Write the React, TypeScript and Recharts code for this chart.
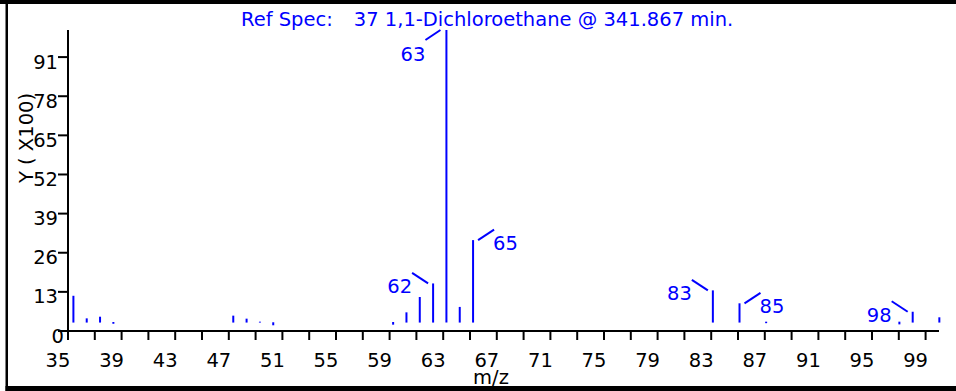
import { BarChart, Bar, XAxis, YAxis, LabelList } from "recharts";

// m/z of each peak in the reference spectrum
const mz = [35, 36, 37, 38, 47, 48, 49, 50, 59, 60, 61, 62, 63, 64, 65, 83, 85, 87, 97, 98, 100];
// top of each stick, in Y units (x100)
const abundance = [11.7, 4.2, 4.75, 3.0, 5.1, 4.1, 3.1, 2.9, 3.0, 6.2, 11.3, 15.8, 100, 8.0, 30.2, 13.5, 9.2, 3.1, 3.1, 6.4, 4.55];
// bottom of each stick (sticks float a little above zero)
const floor = [2.8, 2.8, 2.8, 2.4, 2.8, 2.8, 2.8, 1.9, 2.1, 2.8, 2.8, 2.8, 2.8, 2.8, 2.8, 2.8, 2.8, 2.6, 2.2, 2.8, 2.8];
const labelled = [62, 63, 65, 83, 85, 98];

const yTicks = [0, 13, 26, 39, 52, 65, 78, 91];
const xTicks = [35, 37, 39, 41, 43, 45, 47, 49, 51, 53, 55, 57, 59, 61, 63, 65, 67, 69, 71, 73, 75, 77, 79, 81, 83, 85, 87, 89, 91, 93, 95, 97, 99];
const xLabels = [35, 39, 43, 47, 51, 55, 59, 63, 67, 71, 75, 79, 83, 87, 91, 95, 99];

const title = "37 1,1-Dichloroethane @ 341.867 min.";

// which way the leader line of a labelled peak goes
const labelSide: Record<number, "ul" | "ur" | "dl"> = {
  62: "ul",
  63: "dl",
  65: "ur",
  83: "ul",
  85: "ur",
  98: "ul",
};

const data = mz.map((m, i) => ({
  mz: m,
  range: [floor[i], abundance[i]],
  tag: labelled.includes(m) ? m : null,
}));

const FONT = "'DejaVu Sans', Verdana, sans-serif";
const FS = 19.5;
const BLUE = "#0000ff";

function PeakLabel(props: any) {
  const { x, y, width, value } = props;
  if (value == null) return null;
  const cx = Number(x) + Number(width) / 2;
  const top = Number(y);
  const side = labelSide[value];
  if (side === "dl") {
    return (
      <g>
        <line x1={cx - 6} y1={top} x2={cx - 21} y2={top + 10} stroke={BLUE} strokeWidth={2} />
        <text x={cx - 21} y={top + 30.5} textAnchor="end" fontSize={FS} fill={BLUE} fontFamily={FONT}>
          {value}
        </text>
      </g>
    );
  }
  if (side === "ur") {
    return (
      <g>
        <line x1={cx + 5} y1={top} x2={cx + 21} y2={top - 10.5} stroke={BLUE} strokeWidth={2} />
        <text x={cx + 20} y={top + 9.5} textAnchor="start" fontSize={FS} fill={BLUE} fontFamily={FONT}>
          {value}
        </text>
      </g>
    );
  }
  return (
    <g>
      <line x1={cx - 5} y1={top} x2={cx - 21} y2={top - 10.5} stroke={BLUE} strokeWidth={2} />
      <text x={cx - 21} y={top + 10} textAnchor="end" fontSize={FS} fill={BLUE} fontFamily={FONT}>
        {value}
      </text>
    </g>
  );
}

function XTick({ x, y, payload }: any) {
  if (!xLabels.includes(payload.value)) return null;
  return (
    <text x={x - 10} y={y + 26.5} textAnchor="middle" fontSize={FS} fill="#000" fontFamily={FONT}>
      {payload.value}
    </text>
  );
}

function YTick({ x, y, payload }: any) {
  const shift = payload.value === 0 ? 6 : 0;
  return (
    <text x={x + shift} y={y + 11.5} textAnchor="end" fontSize={FS} fill="#000" fontFamily={FONT}>
      {payload.value}
    </text>
  );
}

function YLabel({ viewBox }: any) {
  const cx = viewBox.x + 25;
  const cy = 138;
  return (
    <text x={cx} y={cy} transform={`rotate(-90 ${cx} ${cy})`} textAnchor="middle" fontSize={FS} fill="#000" fontFamily={FONT}>
      Y ( X100)
    </text>
  );
}

function XLabel({ viewBox }: any) {
  return (
    <text x={viewBox.x + 423} y={viewBox.y + 52.5} textAnchor="middle" fontSize={FS} fill="#000" fontFamily={FONT}>
      m/z
    </text>
  );
}

export default function App() {
  return (
    <div style={{ position: "absolute", left: 0, top: 0, width: 956, height: 391, background: "#fff" }}>
      <BarChart width={956} height={391} data={data} margin={{ top: 30, right: 17, bottom: 0, left: 8 }}>
        <XAxis
          xAxisId="mz"
          dataKey="mz"
          type="number"
          domain={[35, 100]}
          ticks={xTicks}
          interval={0}
          height={60}
          tickSize={9}
          tickMargin={0}
          axisLine={{ stroke: "#000", strokeWidth: 2 }}
          tickLine={{ stroke: "#000", strokeWidth: 2 }}
          tick={<XTick />}
          label={{ content: XLabel }}
        />
        <XAxis xAxisId="peaks" dataKey="mz" type="number" domain={[34.62, 100]} hide />
        <YAxis
          type="number"
          domain={[0, 100]}
          ticks={yTicks}
          interval={0}
          width={60}
          tickSize={10}
          tickMargin={0}
          axisLine={{ stroke: "#000", strokeWidth: 2 }}
          tickLine={{ stroke: "#000", strokeWidth: 2 }}
          tick={<YTick />}
          label={{ content: YLabel }}
        />
        <Bar xAxisId="peaks" dataKey="range" fill={BLUE} barSize={2} isAnimationActive={false}>
          <LabelList dataKey="tag" content={PeakLabel} />
        </Bar>
      </BarChart>
      <svg width={956} height={391} style={{ position: "absolute", left: 0, top: 0, pointerEvents: "none" }}>
        <text y={26} fontSize={FS} fill={BLUE} fontFamily={FONT}>
          <tspan x={241}>Ref Spec:</tspan>
          <tspan dx={21}>{title}</tspan>
        </text>
        <rect x={0} y={0} width={956} height={4} fill="#000" />
        <rect x={5.5} y={0} width={2.5} height={391} fill="#000" />
        <rect x={5.5} y={386} width={950.5} height={5} fill="#000" />
      </svg>
    </div>
  );
}
